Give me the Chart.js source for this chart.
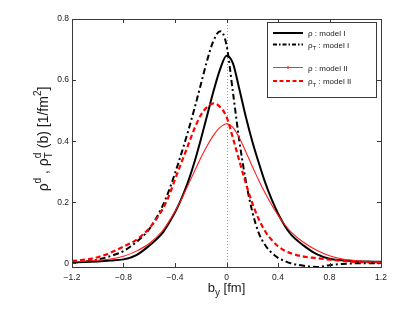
<!DOCTYPE html>
<html><head><meta charset="utf-8">
<script src="https://cdn.jsdelivr.net/npm/chart.js@4"></script>
<style>html,body{margin:0;padding:0;background:#fff;}canvas{display:block}</style>
</head><body>
<canvas id="c" width="398" height="311"></canvas>
<script>
// b_y positions [fm]
const by = [-1.2,-1.1,-1.0,-0.9,-0.8,-0.7,-0.6,-0.5,-0.45,-0.4,-0.35,-0.3,-0.25,-0.2,-0.15,-0.1,-0.05,0,0.05,0.1,0.15,0.2,0.25,0.3,0.35,0.4,0.45,0.5,0.6,0.7,0.8,0.9,1.0,1.1,1.2];
// rho : model I
const rhoModelI = [0.003,0.004,0.006,0.009,0.013,0.027,0.058,0.098,0.13,0.167,0.212,0.265,0.33,0.405,0.485,0.565,0.635,0.68,0.655,0.57,0.48,0.40,0.33,0.265,0.21,0.163,0.125,0.095,0.058,0.03,0.015,0.01,0.007,0.006,0.005];
// rho_T : model I
const rhoTModelI = [0.002,0.006,0.012,0.024,0.04,0.07,0.112,0.185,0.235,0.295,0.36,0.43,0.505,0.585,0.665,0.73,0.76,0.715,0.56,0.40,0.27,0.17,0.10,0.06,0.035,0.018,0.008,0.0,-0.008,-0.012,-0.006,-0.002,0,0,0];
// rho : model II
const rhoModelII = [0.005,0.007,0.01,0.014,0.023,0.04,0.065,0.105,0.135,0.17,0.21,0.255,0.30,0.345,0.385,0.42,0.445,0.457,0.445,0.41,0.365,0.318,0.272,0.23,0.192,0.158,0.128,0.103,0.068,0.043,0.025,0.014,0.009,0.006,0.004];
// rho_T : model II
const rhoTModelII = [0.008,0.012,0.02,0.035,0.055,0.077,0.115,0.175,0.218,0.275,0.33,0.385,0.44,0.485,0.512,0.524,0.512,0.48,0.41,0.335,0.262,0.197,0.145,0.105,0.077,0.056,0.042,0.033,0.022,0.017,0.012,0.008,0.005,0.004,0.004];
const xTickValues = [-1.2,-0.8,-0.4,0,0.4,0.8,1.2];
const yTickValues = [0,0.2,0.4,0.6,0.8];

const FONT = '"Liberation Sans", Arial, Helvetica, sans-serif';
const pts = arr => by.map((x,i)=>({x:x,y:arr[i]}));
const fmt = v => { const r = Math.round(v*10)/10; if (r===0) return '0'; const s = Math.abs(r).toFixed(1); return r<0 ? '\u2212'+s : s; };

function segWidth(ctx, s){
  if (s.stack){ return Math.max(...s.stack.map(q=>{ctx.font=q.size+'px '+FONT;return ctx.measureText(q.t).width;})); }
  ctx.font = s.size+'px '+FONT; return ctx.measureText(s.t).width;
}
function drawRich(ctx, x, y, segs, align){
  const w = segs.reduce((a,s)=>a+segWidth(ctx,s),0);
  let cx = align==='center' ? x - w/2 : x;
  ctx.textAlign='left'; ctx.textBaseline='alphabetic';
  segs.forEach(s=>{
    const sw = segWidth(ctx,s);
    const list = s.stack ? s.stack : [s];
    list.forEach(q=>{ ctx.font=q.size+'px '+FONT; ctx.fillText(q.t, cx, y+(q.dy||0)); });
    cx += sw;
  });
}

const decor = {
  id:'decor',
  beforeDatasetsDraw(chart){
    const {ctx, chartArea:a, scales:{x}} = chart;
    const px = x.getPixelForValue(0);
    ctx.save();
    ctx.strokeStyle='#9a9a9a'; ctx.lineWidth=1; ctx.setLineDash([1,2]);
    ctx.beginPath(); ctx.moveTo(Math.round(px)+0.5,a.top); ctx.lineTo(Math.round(px)+0.5,a.bottom); ctx.stroke();
    ctx.restore();
  },
  afterDraw(chart){
    const {ctx, chartArea:a, scales:{x,y}} = chart;
    ctx.save();
    // box
    ctx.strokeStyle='#3a3a3a'; ctx.lineWidth=1; ctx.setLineDash([]);
    ctx.strokeRect(Math.round(a.left)+0.5, Math.round(a.top)+0.5, Math.round(a.right-a.left), Math.round(a.bottom-a.top));
    // inward ticks
    const tl=4;
    ctx.beginPath();
    xTickValues.forEach(v=>{ const p=Math.round(x.getPixelForValue(v))+0.5;
      ctx.moveTo(p,a.bottom); ctx.lineTo(p,a.bottom-tl); ctx.moveTo(p,a.top); ctx.lineTo(p,a.top+tl); });
    yTickValues.forEach(v=>{ const p=Math.round(y.getPixelForValue(v))+0.5;
      ctx.moveTo(a.left,p); ctx.lineTo(a.left+tl,p); ctx.moveTo(a.right,p); ctx.lineTo(a.right-tl,p); });
    ctx.stroke();
    // axis titles
    ctx.fillStyle='#1a1a1a';
    drawRich(ctx, x.getPixelForValue(0), 292, [
      {t:'b', size:13},{t:'y', size:10, dy:4},{t:' [fm]', size:13}], 'center');
    ctx.save();
    ctx.translate(48, 139); ctx.rotate(-Math.PI/2);
    drawRich(ctx, 0, 0, [
      {t:'ρ', size:14},{t:'d', size:10, dy:-7},{t:' , ρ', size:14},
      {stack:[{t:'d', size:10, dy:-7},{t:'T', size:10, dy:4}]},
      {t:' (b) [1/fm', size:14},{t:'2', size:10, dy:-7},{t:']', size:14}], 'center');
    ctx.restore();
    // legend
    const L=267.5, T=22.5, R=376.5, B=97.5;
    ctx.fillStyle='#fff'; ctx.fillRect(L,T,R-L,B-T);
    ctx.strokeStyle='#3a3a3a'; ctx.lineWidth=1; ctx.strokeRect(L,T,R-L,B-T);
    const entries = [
      {y:33, color:'#000', w:2, dash:[], label:[{t:'ρ : model I', size:8}]},
      {y:44.5, color:'#000', w:2, dash:[4,2,1.5,2], label:[{t:'ρ', size:8},{t:'T', size:6, dy:2.5},{t:' : model I', size:8}]},
      {y:67.5, color:'#ff3030', w:1, dash:[], dot:true, label:[{t:'ρ : model II', size:8}]},
      {y:81, color:'#ff0000', w:2, dash:[4,2.5], label:[{t:'ρ', size:8},{t:'T', size:6, dy:2.5},{t:' : model II', size:8}]}
    ];
    entries.forEach(e=>{
      ctx.strokeStyle=e.color; ctx.lineWidth=e.w; ctx.setLineDash(e.dash);
      ctx.beginPath(); ctx.moveTo(273,e.y); ctx.lineTo(303,e.y); ctx.stroke();
      ctx.setLineDash([]);
      if(e.dot){ ctx.fillStyle=e.color; ctx.beginPath(); ctx.arc(288,e.y,1.3,0,Math.PI*2); ctx.fill(); }
      ctx.fillStyle='#1a1a1a';
      drawRich(ctx, 308, e.y+3, e.label, 'left');
    });
    ctx.restore();
  }
};

new Chart(document.getElementById('c'), {
  type:'line',
  data:{ datasets:[
    {label:'ρT : model II', data:pts(rhoTModelII), borderColor:'#ff0000', borderWidth:2.2, borderDash:[5,3], order:0},
    {label:'ρ : model II', data:pts(rhoModelII), borderColor:'#ff1a1a', borderWidth:1.1, order:1},
    {label:'ρT : model I', data:pts(rhoTModelI), borderColor:'#000', borderWidth:2, borderDash:[6,3,2,3], order:2},
    {label:'ρ : model I', data:pts(rhoModelI), borderColor:'#000', borderWidth:2, order:3}
  ]},
  options:{
    responsive:false, animation:false, devicePixelRatio:1,
    elements:{ point:{radius:0}, line:{cubicInterpolationMode:'monotone', fill:false} },
    layout:{ padding:{top:19, right:17, left:0, bottom:0} },
    plugins:{ legend:{display:false}, tooltip:{enabled:false}, title:{display:false} },
    scales:{
      x:{ type:'linear', min:-1.2, max:1.2,
        afterBuildTicks:s=>{ s.ticks = xTickValues.map(v=>({value:v})); },
        afterFit:s=>{ s.height = 44; },
        grid:{display:false, drawTicks:false}, border:{display:false},
        ticks:{ callback:v=>fmt(v), color:'#1a1a1a', font:{family:FONT, size:8.5}, padding:6, maxRotation:0, autoSkip:false } },
      y:{ type:'linear', min:-0.012, max:0.8,
        afterBuildTicks:s=>{ s.ticks = yTickValues.map(v=>({value:v})); },
        afterFit:s=>{ s.width = 72; },
        grid:{display:false, drawTicks:false}, border:{display:false},
        ticks:{ callback:v=>fmt(v), color:'#1a1a1a', font:{family:FONT, size:8.5}, padding:3 } }
    }
  },
  plugins:[decor]
});
</script>
</body></html>
